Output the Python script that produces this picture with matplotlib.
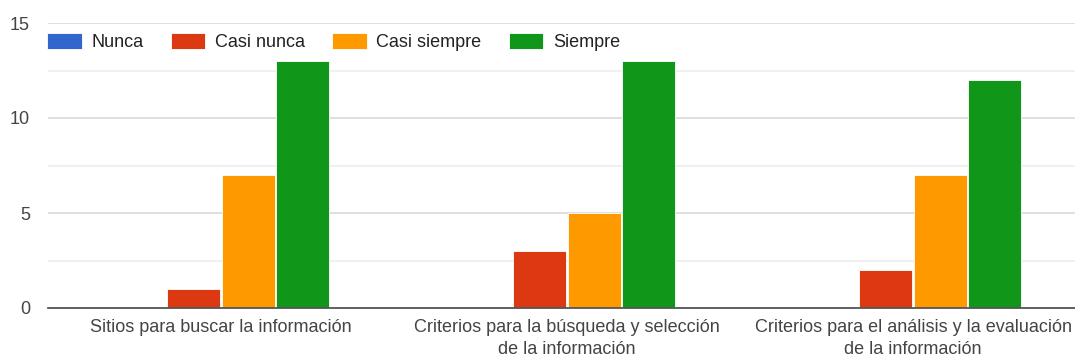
import matplotlib.pyplot as plt
import numpy as np

plt.rcParams['font.family'] = ['Liberation Sans', 'DejaVu Sans']

categories = ['Sitios para buscar la información',
              'Criterios para la búsqueda y selección\nde la información',
              'Criterios para el análisis y la evaluación\nde la información']
series = ['Nunca', 'Casi nunca', 'Casi siempre', 'Siempre']
nunca = [0, 0, 0]
casi_nunca = [1, 3, 2]
casi_siempre = [7, 5, 7]
siempre = [13, 13, 12]
colors = ['#3366cc', '#dc3912', '#ff9900', '#109618']

values = [nunca, casi_nunca, casi_siempre, siempre]

fig = plt.figure(figsize=(10.75, 3.6), dpi=100)
ax = fig.add_axes([48 / 1075, 52 / 360, 1 - 48 / 1075, (308 - 23) / 360])

ind = np.arange(len(categories))
slot = 0.157
width = 0.153
for i, (name, vals, c) in enumerate(zip(series, values, colors)):
    ax.bar(ind + (i - 1.5) * slot, vals, width, color=c, label=name,
           edgecolor='white', linewidth=0.6, zorder=3)

ax.set_ylim(0, 15)
ax.set_xlim(-0.5, 2.468)
ax.set_yticks([0, 5, 10, 15])
ax.set_yticks([2.5, 7.5, 12.5], minor=True)
ax.grid(axis='y', which='major', color='#d6d6d6', linewidth=1.1, zorder=0)
ax.grid(axis='y', which='minor', color='#ececec', linewidth=1.1, zorder=0)
ax.set_xticks(ind)
ax.set_xticklabels(categories, linespacing=1.4)
ax.tick_params(axis='both', which='both', length=0, labelsize=13,
               colors='#444444')
ax.tick_params(axis='y', pad=13)
ax.tick_params(axis='x', pad=8)
for s in ['top', 'right', 'left']:
    ax.spines[s].set_visible(False)
ax.spines['bottom'].set_color('#555555')
ax.spines['bottom'].set_linewidth(1.3)
ax.spines['bottom'].set_zorder(4)

fig.legend(loc='center left', bbox_to_anchor=(33 / 1075, 1 - 42 / 360),
           ncol=4, frameon=False, fontsize=13, handlelength=1.9,
           handleheight=0.95, handletextpad=0.55, columnspacing=1.5,
           labelcolor='#222222', borderpad=0.3)

fig.savefig('out.png', dpi=100)
